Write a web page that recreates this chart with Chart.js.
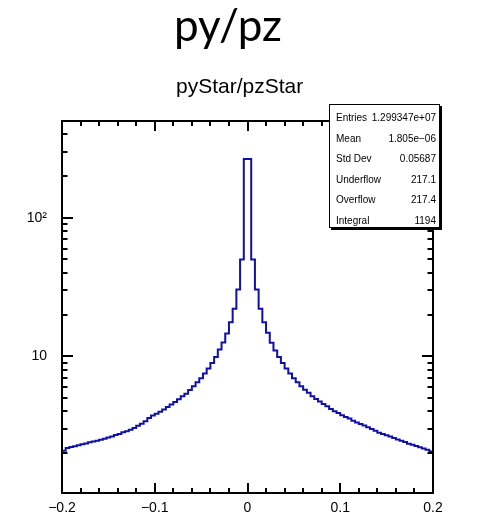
<!DOCTYPE html>
<html>
<head>
<meta charset="utf-8">
<script src="https://cdn.jsdelivr.net/npm/chart.js@4.4.1/dist/chart.umd.min.js"></script>
<style>
    html, body { margin: 0; padding: 0; background: #fff; }
    #wrap { position: relative; width: 487px; height: 520px; }
    #histo { position: absolute; left: 0; top: 0; }
    #title {
        position: absolute; left: 174px; top: 2px;
        font: 44px Lato, 'Open Sans', sans-serif; line-height: 44px; color: #000;
        white-space: nowrap;
    }
    #subtitle {
        position: absolute; left: 176px; top: 75px;
        font: 21px 'Liberation Sans', Arial, sans-serif; line-height: 21px; color: #000;
        white-space: nowrap;
    }
    #stats {
        position: absolute; left: 329px; top: 104px; width: 109px; height: 122px;
        border: 1px solid #000; background: #fff; box-shadow: 2px 2px 0 #000;
        font: 10px 'Liberation Sans', Arial, sans-serif; color: #000;
    }
    #stats .row {
        position: absolute; left: 6px; right: 3px; height: 14px; line-height: 14px;
        display: flex; justify-content: space-between; white-space: nowrap;
    }
</style>
</head>
<body>
<div id="wrap">
    <canvas id="histo" width="487" height="520"></canvas>
    <div id="title">py/pz</div>
    <div id="subtitle">pyStar/pzStar</div>
    <div id="stats"></div>
</div>
<script>
// histogram binning: 100 bins from -0.2 to 0.2
const xMin = -0.2;
const xMax = 0.2;
const binWidth = 0.004;

// bin contents (left to right)
const binCounts = [
    2.08, 2.18, 2.21, 2.24, 2.28, 2.32, 2.35, 2.39, 2.42, 2.46,
    2.50, 2.54, 2.59, 2.64, 2.70, 2.75, 2.83, 2.87, 2.95, 3.03,
    3.15, 3.26, 3.40, 3.58, 3.73, 3.85, 3.98, 4.12, 4.31, 4.48,
    4.68, 4.89, 5.14, 5.37, 5.71, 6.07, 6.49, 6.93, 7.50, 8.15,
    8.96, 9.90, 11.2, 12.6, 14.6, 17.6, 22.0, 30.3, 49.9, 266,
    266, 49.9, 30.3, 22.0, 17.6, 14.8, 12.5, 11.0, 9.90, 8.96,
    8.15, 7.50, 6.93, 6.49, 6.07, 5.74, 5.45, 5.14, 4.92, 4.71,
    4.53, 4.36, 4.17, 4.01, 3.90, 3.75, 3.65, 3.55, 3.43, 3.33,
    3.24, 3.17, 3.07, 2.98, 2.90, 2.81, 2.75, 2.69, 2.63, 2.57,
    2.51, 2.46, 2.40, 2.34, 2.30, 2.25, 2.20, 2.16, 2.11, 2.05
];

const xTickValues = [-0.2, -0.1, 0, 0.1, 0.2];
const xTickLabels = ['\u22120.2', '\u22120.1', '0', '0.1', '0.2'];
const yTickValues = [10, 100];
const yTickLabels = ['10', '10\u00B2'];
const yRange = [1.03, 500];

const statNames = ['Entries', 'Mean', 'Std Dev', 'Underflow', 'Overflow', 'Integral'];
const statValues = ['1.299347e+07', '1.805e\u221206', '0.05687', '217.1', '217.4', '1194'];

// stats box rows
const statsBox = document.getElementById('stats');
statNames.forEach((name, i) => {
    const row = document.createElement('div');
    row.className = 'row';
    row.style.top = (6 + i * 20.6) + 'px';
    row.innerHTML = '<span>' + name + '</span><span>' + statValues[i] + '</span>';
    statsBox.appendChild(row);
});

// points at bin left edges, plus closing point at the right edge
const points = binCounts.map((v, i) => ({ x: xMin + i * binWidth, y: v }));
points.push({ x: xMax, y: binCounts[binCounts.length - 1] });

// ROOT style frame with inward ticks on all four sides
const frameTicks = {
    id: 'frameTicks',
    afterDatasetsDraw(chart) {
        const { ctx, chartArea: a, scales: { x, y } } = chart;
        ctx.save();
        ctx.strokeStyle = '#000';
        ctx.lineWidth = 2;
        ctx.beginPath();
        // x ticks every 0.02, long ones every 0.1
        for (let k = 0; k <= 20; k++) {
            const px = Math.round(x.getPixelForValue(xMin + k * 0.02));
            const len = k % 5 === 0 ? 10 : 5;
            ctx.moveTo(px, a.bottom); ctx.lineTo(px, a.bottom - len);
            ctx.moveTo(px, a.top); ctx.lineTo(px, a.top + len);
        }
        // log y ticks 1..9 per decade
        for (let d = 1; d <= 100; d *= 10) {
            for (let m = 1; m <= 9; m++) {
                const v = m * d;
                if (v < yRange[0] || v > yRange[1]) continue;
                const py = Math.round(y.getPixelForValue(v));
                const len = m === 1 ? 11 : 5.5;
                ctx.moveTo(a.left, py); ctx.lineTo(a.left + len, py);
                ctx.moveTo(a.right, py); ctx.lineTo(a.right - len, py);
            }
        }
        ctx.stroke();
        ctx.strokeRect(a.left, a.top, a.right - a.left, a.bottom - a.top);
        ctx.restore();
    }
};

new Chart(document.getElementById('histo'), {
    type: 'line',
    data: {
        datasets: [{
            data: points,
            borderColor: '#1010a8',
            borderWidth: 2,
            stepped: 'before',
            pointRadius: 0,
            fill: false
        }]
    },
    options: {
        responsive: false,
        animation: false,
        layout: { padding: { top: 121, right: 54, left: 0, bottom: 0 } },
        plugins: {
            legend: { display: false },
            tooltip: { enabled: false }
        },
        scales: {
            x: {
                type: 'linear',
                min: xMin,
                max: xMax,
                grid: { display: false, drawTicks: false },
                border: { display: false },
                afterBuildTicks: s => { s.ticks = xTickValues.map(v => ({ value: v })); },
                afterFit: s => { s.height = 27; },
                ticks: {
                    autoSkip: false,
                    maxRotation: 0,
                    padding: 7,
                    color: '#000',
                    font: { family: 'Liberation Sans', size: 14 },
                    callback: v => xTickLabels[xTickValues.indexOf(v)]
                }
            },
            y: {
                type: 'logarithmic',
                min: yRange[0],
                max: yRange[1],
                grid: { display: false, drawTicks: false },
                border: { display: false },
                afterBuildTicks: s => { s.ticks = yTickValues.map(v => ({ value: v })); },
                afterFit: s => { s.width = 62; },
                ticks: {
                    padding: 15,
                    color: '#000',
                    font: { family: 'Liberation Sans', size: 14 },
                    callback: v => yTickLabels[yTickValues.indexOf(v)]
                }
            }
        }
    },
    plugins: [frameTicks]
});
</script>
</body>
</html>
